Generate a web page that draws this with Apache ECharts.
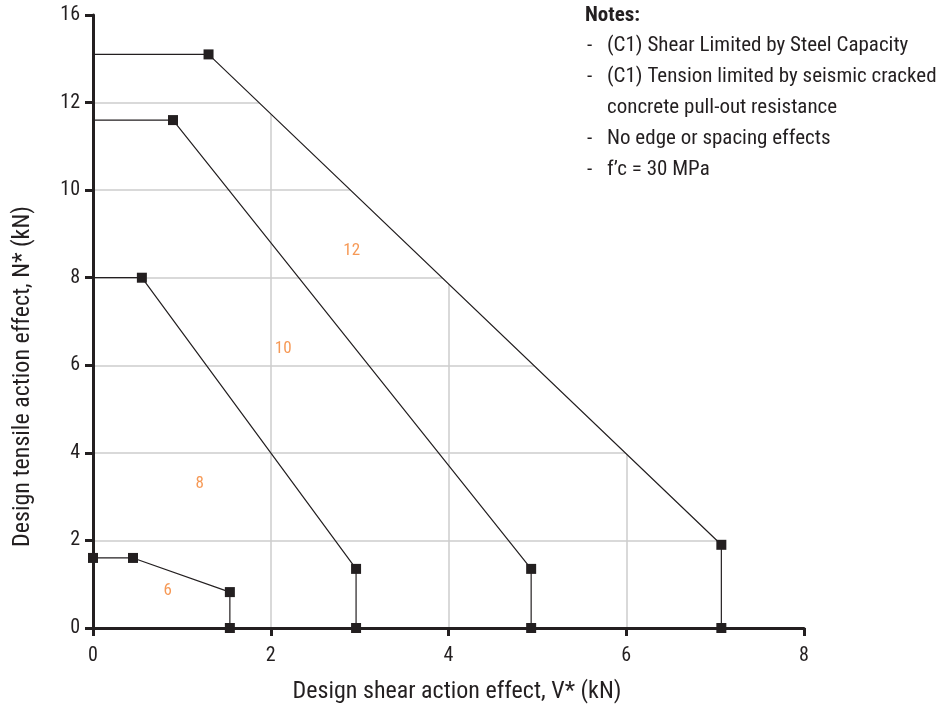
<!DOCTYPE html>
<html>
<head>
<meta charset="utf-8">
<script src="https://cdn.jsdelivr.net/npm/echarts@6/dist/echarts.min.js"></script>
<style>
html,body{margin:0;padding:0;background:#fff;}
#chart{width:949px;height:711px;}
</style>
</head>
<body>
<div id="chart"></div>
<script>
// ---- data ----
const seriesNames = ['6', '8', '10', '12'];
const s6_V  = [0, 0.45, 1.54, 1.54];
const s6_N  = [1.6, 1.6, 0.82, 0];
const s8_V  = [0, 0.55, 2.96, 2.96];
const s8_N  = [8.0, 8.0, 1.35, 0];
const s10_V = [0, 0.90, 4.93, 4.93];
const s10_N = [11.6, 11.6, 1.35, 0];
const s12_V = [0, 1.30, 7.07, 7.07];
const s12_N = [13.1, 13.1, 1.9, 0];
// first point drawn with a marker? (only the "6" curve has one at V=0)
const markerAtStart = [true, false, false, false];

const curveLabelText = ['6', '8', '10', '12'];
const curveLabelV = [0.84, 1.20, 2.14, 2.91];
const curveLabelN = [0.84, 3.29, 6.37, 8.61];

const xTickLabels = ['0', '2', '4', '6', '8'];
const yTickLabels = ['0', '2', '4', '6', '8', '10', '12', '16'];

const notesTitle = 'Notes:';
const notesLines = [
  ['-', '(C1) Shear Limited by Steel Capacity'],
  ['-', '(C1) Tension limited by seismic cracked'],
  ['', 'concrete pull-out resistance'],
  ['-', 'No edge or spacing effects'],
  ['-', 'f\u2019c = 30 MPa']
];

// ---- chart ----
const FONT = "'Liberation Sans Narrow','Roboto Condensed','Arial Narrow',Roboto,sans-serif";
const INK = '#231f20';
const allV = [s6_V, s8_V, s10_V, s12_V];
const allN = [s6_N, s8_N, s10_N, s12_N];

const lineSeries = allV.map((vs, si) => ({
  type: 'line',
  name: seriesNames[si],
  xAxisIndex: 0, yAxisIndex: 0,
  z: 4,
  silent: true,
  animation: false,
  symbol: 'rect',
  symbolSize: 10,
  showAllSymbol: true,
  lineStyle: { color: INK, width: 1.2 },
  itemStyle: { color: INK },
  data: vs.map((v, i) => {
    const item = { value: [v, allN[si][i]] };
    if (i === 0 && !markerAtStart[si]) item.symbol = 'none';
    return item;
  })
}));

// white mask above the outermost curve (hides grid lines there)
const maskData = s12_V.map((v, i) => [v, s12_N[i]]).concat([[8, 0]]);
const maskSeries = {
  type: 'line', xAxisIndex: 0, yAxisIndex: 0, z: 1, silent: true, animation: false,
  symbol: 'none', lineStyle: { width: 0, opacity: 0 },
  areaStyle: { color: '#ffffff', opacity: 1, origin: 'end' },
  data: maskData
};

const labelSeries = {
  type: 'scatter', xAxisIndex: 0, yAxisIndex: 0, z: 5, silent: true, animation: false,
  symbolSize: 0,
  itemStyle: { color: 'transparent' },
  label: {
    show: true, position: 'inside',
    formatter: p => curveLabelText[p.dataIndex],
    color: '#f47f2c', fontFamily: FONT, fontSize: 17
  },
  data: curveLabelV.map((v, i) => [v, curveLabelN[i]])
};

const notesFont = "21px " + FONT;
const notesGraphic = [{
  type: 'text', x: 585, y: 16, z: 100,
  style: { text: notesTitle, font: "bold 21px " + FONT, fill: INK, verticalAlign: 'middle' }
}].concat(notesLines.flatMap((ln, i) => {
  const y = 46 + i * 31;
  const out = [{
    type: 'text', x: 607, y: y, z: 100,
    style: { text: ln[1], font: notesFont, fill: INK, verticalAlign: 'middle' }
  }];
  if (ln[0]) out.push({
    type: 'text', x: 587, y: y, z: 100,
    style: { text: ln[0], font: notesFont, fill: INK, verticalAlign: 'middle' }
  });
  return out;
}));

const axisLineStyle = { color: INK, width: 3 };
const gridLine = { show: true, showMaxLine: false, lineStyle: { color: '#cccccc', width: 1.5 } };
const option = {
  backgroundColor: '#ffffff',
  animation: false,
  grid: { left: 93, right: 145, top: 15, bottom: 83, containLabel: false },
  xAxis: [
    {
      type: 'value', min: 0, max: 8, interval: 2, position: 'bottom',
      axisLine: { show: false }, axisTick: { show: false }, axisLabel: { show: false },
      splitLine: gridLine
    },
    {
      type: 'value', min: 0, max: 8, interval: 2, position: 'bottom', z: 10,
      name: 'Design shear action effect, V* (kN)',
      nameLocation: 'middle', nameGap: 52,
      nameTextStyle: { fontFamily: FONT, fontSize: 24, color: INK, padding: [0, 0, 0, 17] },
      axisLine: { show: true, lineStyle: axisLineStyle },
      axisTick: { show: true, length: 8, lineStyle: { color: INK, width: 3 } },
      axisLabel: {
        fontFamily: FONT, fontSize: 20, color: INK, margin: 18,
        formatter: (val) => xTickLabels[Math.round(val / 2)]
      },
      splitLine: { show: false }
    }
  ],
  yAxis: [
    {
      type: 'value', min: 0, max: 14, interval: 2, position: 'left',
      axisLine: { show: false }, axisTick: { show: false }, axisLabel: { show: false },
      splitLine: gridLine
    },
    {
      type: 'value', min: 0, max: 14, interval: 2, position: 'left', z: 10,
      name: 'Design tensile action effect, N* (kN)',
      nameLocation: 'middle', nameGap: 58,
      nameTextStyle: { fontFamily: FONT, fontSize: 24, color: INK, padding: [0, 110, 0, 0] },
      axisLine: { show: true, lineStyle: axisLineStyle },
      axisTick: { show: true, length: 8, lineStyle: { color: INK, width: 3 } },
      axisLabel: {
        fontFamily: FONT, fontSize: 20, color: INK, margin: 13,
        formatter: (val) => yTickLabels[Math.round(val / 2)]
      },
      splitLine: { show: false }
    }
  ],
  graphic: notesGraphic,
  series: [maskSeries].concat(lineSeries, [labelSeries])
};

const chart = echarts.init(document.getElementById('chart'), null, { renderer: 'canvas' });
chart.setOption(option);
</script>
</body>
</html>
